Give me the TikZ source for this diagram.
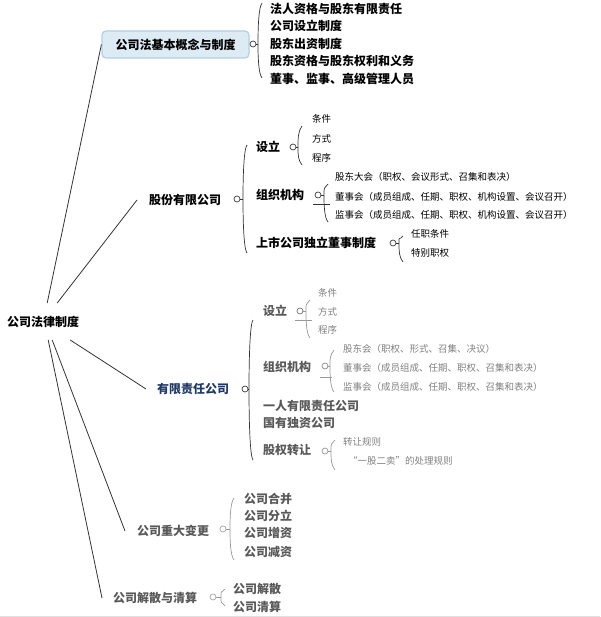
\documentclass[tikz,border=0pt]{standalone}
\usepackage{fontspec}
\setmainfont{Noto Sans CJK SC}
\usetikzlibrary{calc}
\definecolor{navy}{HTML}{1F3A68}
\definecolor{boxfill}{HTML}{DDEBF5}
\definecolor{boxdraw}{HTML}{B3CFE3}
\tikzset{
 big/.style={anchor=west, inner sep=0pt, font=\fontsize{12}{12}\selectfont\bfseries},
 sm/.style={anchor=west, inner sep=0pt, font=\fontsize{9.5}{9.5}\selectfont},
 knob/.style={circle, draw=black!75, fill=white, minimum size=6pt, inner sep=0pt, line width=0.7pt},
 brc/.style={draw=black!80, line width=0.7pt},
 lbrc/.style={draw=black!40, line width=0.7pt},
 trunk/.style={draw=black!80, line width=0.8pt},
 faded/.style={text=black!65},
 fadedsm/.style={text=black!50},
}
% knob name, bx, cy, ytop, ybot, style
\newcommand\mybrace[6]{%
 \draw[#6] (#1.east) -- (#2,-#3);
 \draw[#6] (#2+4,-#4) .. controls (#2,-#4-5) and (#2,-#3+8) .. (#2,-#3)
   .. controls (#2,-#3-8) and (#2,-#5+5) .. (#2+4,-#5);
}
\begin{document}
\begin{tikzpicture}[x=1pt,y=1pt]
\useasboundingbox (0,0) rectangle (600,-617);
\draw[black!12, line width=0.8pt] (0,-616) -- (600,-616);

% root
\node[big] (root) at (7,-322) {公司法律制度};

% branch 1
\node[draw=boxdraw, fill=boxfill, line width=1.2pt, rounded corners=4pt, minimum width=147pt, minimum height=27pt, inner sep=0pt, font=\fontsize{12}{12}\selectfont\bfseries] (b1) at (175.5,-44.5) {公司法基本概念与制度};
\node[knob] (k1) at (253,-44) {};
\mybrace{k1}{258}{44}{3}{78}{brc}
\node[big] (b1a) at (270,-9) {法人资格与股东有限责任};
\node[big] (b1b) at (270,-26) {公司设立制度};
\node[big] (b1c) at (270,-44) {股东出资制度};
\node[big] (b1d) at (270,-61) {股东资格与股东权利和义务};
\node[big] (b1e) at (270,-79) {董事、监事、高级管理人员};

% branch 2
\node[big] (b2) at (149,-200) {股份有限公司};
\node[knob] (k2) at (237,-199) {};
\mybrace{k2}{243}{199}{145}{253}{brc}
\node[big] (b2a) at (256,-147) {设立};
\node[knob] (k2a) at (293,-147) {};
\mybrace{k2a}{298}{147}{126}{165}{brc}
\node[sm] (b2a1) at (312,-119) {条件};
\node[sm] (b2a2) at (312,-139) {方式};
\node[sm] (b2a3) at (312,-158) {程序};
\node[big] (b2b) at (256,-195) {组织机构};
\node[knob] (k2b) at (318,-195) {};
\mybrace{k2b}{324}{195}{184}{222}{brc}
\coordinate (h2b1) at (313,-204); \coordinate (h2b2) at (330,-204);
\draw[brc] (h2b1) -- (h2b2);
\node[sm] (b2b1) at (335,-177) {股东大会（职权、会议形式、召集和表决）};
\node[sm] (b2b2) at (335,-197) {董事会（成员组成、任期、职权、机构设置、会议召开）};
\node[sm] (b2b3) at (335,-215) {监事会（成员组成、任期、职权、机构设置、会议召开）};
\node[big] (b2c) at (256,-243) {上市公司独立董事制度};
\node[knob] (k2c) at (393,-243) {};
\mybrace{k2c}{399}{243}{236}{262}{brc}
\node[sm] (b2c1) at (411,-234) {任职条件};
\node[sm] (b2c2) at (411,-253) {特别职权};

% branch 3
\node[big, text=navy] (b3) at (157,-389) {有限责任公司};
\node[knob] (k3) at (245,-389) {};
\mybrace{k3}{249}{389}{320}{460}{brc}
\node[big, faded] (b3a) at (263,-311) {设立};
\node[knob, draw=black!55] (k3a) at (300,-311) {};
\mybrace{k3a}{306}{311}{300}{338}{lbrc}
\coordinate (h3a1) at (295,-320); \coordinate (h3a2) at (312,-320);
\draw[lbrc] (h3a1) -- (h3a2);
\node[sm, fadedsm] (b3a1) at (318,-293) {条件};
\node[sm, fadedsm] (b3a2) at (318,-312) {方式};
\node[sm, fadedsm] (b3a3) at (318,-330) {程序};
\node[big, faded] (b3b) at (263,-367) {组织机构};
\node[knob, draw=black!45] (k3b) at (325,-366) {};
\mybrace{k3b}{330}{366}{350}{392}{lbrc}
\coordinate (h3b1) at (320,-377); \coordinate (h3b2) at (332,-377);
\draw[lbrc] (h3b1) -- (h3b2);
\node[sm, fadedsm] (b3b1) at (343,-349) {股东会（职权、形式、召集、决议）};
\node[sm, fadedsm] (b3b2) at (343,-368) {董事会（成员组成、任期、职权、召集和表决）};
\node[sm, fadedsm] (b3b3) at (343,-387) {监事会（成员组成、任期、职权、召集和表决）};
\node[big, faded] (b3c) at (263,-406) {一人有限责任公司};
\node[big, faded] (b3d) at (263,-423) {国有独资公司};
\node[big, faded] (b3e) at (263,-450) {股权转让};
\node[knob, draw=black!40] (k3e) at (325,-451) {};
\mybrace{k3e}{331}{451}{440}{470}{lbrc}
\node[sm, fadedsm] (b3e1) at (343,-442) {转让规则};
\node[sm, fadedsm] (b3e2) at (348,-461) {“一股二卖”的处理规则};

% branch 4
\node[big, faded] (b4) at (137,-531) {公司重大变更};
\node[knob, draw=black!35] (k4) at (223,-529) {};
\mybrace{k4}{230}{529}{498}{560}{lbrc}
\node[big, faded] (b4a) at (244,-499) {公司合并};
\node[big, faded] (b4b) at (244,-516) {公司分立};
\node[big, faded] (b4c) at (244,-533) {公司增资};
\node[big, faded] (b4d) at (244,-552) {公司减资};

% branch 5
\node[big, faded] (b5) at (113,-598) {公司解散与清算};
\node[knob, draw=black!35] (k5) at (213,-597) {};
\mybrace{k5}{221}{597}{589}{606}{lbrc}
\node[big, faded] (b5a) at (233,-589) {公司解散};
\node[big, faded] (b5b) at (233,-607) {公司清算};

% trunks
\draw[trunk] ([shift={(4,13)}]root.north) -- (b1.west);
\draw[trunk] ([shift={(14,13)}]root.north) -- ([xshift=-12pt]b2.west);
\draw[trunk] ([shift={(27,-12)}]root.south) -- ([xshift=-11pt]b3.west);
\draw[trunk] ([shift={(9,-12)}]root.south) -- ([xshift=-12pt]b4.west);
\draw[trunk] ([shift={(5,-12)}]root.south) -- ([xshift=-11pt]b5.west);
\end{tikzpicture}
\end{document}
